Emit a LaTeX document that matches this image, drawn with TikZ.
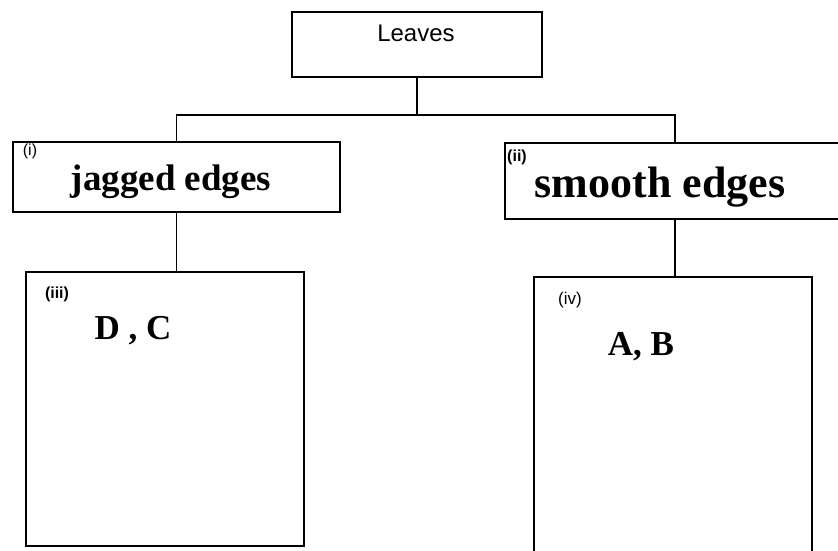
\documentclass[tikz,border=0pt]{standalone}
\usepackage{fontspec}
\setmainfont{Liberation Serif}
\setsansfont{Liberation Sans}
\newcommand\fsz[1]{\fontsize{#1}{#1}\selectfont}

\begin{document}
\begin{tikzpicture}[x=1pt,y=-1pt]
		\useasboundingbox (0,0) rectangle (838,551);
		\clip (0,0) rectangle (838,551);
		\begin{scope}[every node/.style={draw,line width=1.7pt,inner sep=0pt}]
			\node[minimum width=250pt,minimum height=65pt] (leaves) at (417,44.5) {};
			\node[minimum width=327pt,minimum height=70pt] (jagged) at (176.5,177) {};
			\node[minimum width=340pt,minimum height=76pt] (smooth) at (675,181) {};
			\node[minimum width=278pt,minimum height=274pt] (dc) at (165,409) {};
			\node[minimum width=278pt,minimum height=283pt] (ab) at (673,418.5) {};
		\end{scope}
		\begin{scope}[every node/.style={anchor=base,inner sep=0pt}]
			\node[font={\sffamily\fsz{24}}] (tleaves) at (416,42) {Leaves};
			\node[font={\bfseries\fsz{37}}] (tjagged) at (171,190) {jagged edges};
			\node[font={\bfseries\fsz{44}}] (tsmooth) at (660,197) {smooth edges};
			\node[font={\bfseries\fsz{35}}] (tdc) at (133,339) {D , C};
			\node[font={\bfseries\fsz{35}}] (tab) at (641,355) {A, B};
			\node[font={\sffamily\fsz{16}}] (ti) at (30,155) {(i)};
			\node[font={\sffamily\bfseries\fsz{16}}] (tii) at (517,161) {(ii)};
			\node[font={\sffamily\bfseries\fsz{16}}] (tiii) at (57,298) {(iii)};
			\node[font={\sffamily\fsz{17}}] (tiv) at (570,304) {(iv)};
		\end{scope}
		\begin{scope}[line width=1.7pt]
			\coordinate (fork) at (417,115);
			\draw (leaves.south) -- (fork);
			\draw (jagged.north) |- (fork) -| (smooth.north);
			\draw (jagged.south) -- (jagged.south |- dc.north);
			\draw (smooth.south) -- (smooth.south |- ab.north);
		\end{scope}
	\end{tikzpicture}
\end{document}
